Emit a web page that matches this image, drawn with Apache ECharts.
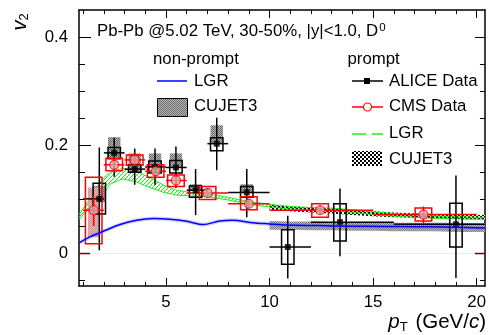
<!DOCTYPE html>
<html>
<head>
<meta charset="utf-8">
<script src="https://cdn.jsdelivr.net/npm/echarts@6/dist/echarts.min.js"></script>
<style>
  html, body { margin: 0; padding: 0; background: #fff; }
  #chart { width: 489px; height: 335px; }
</style>
</head>
<body>
<div id="chart"></div>
<script>
// ---------- ALICE prompt D0 v2 (30-50%) ----------
const aliceX      = [1.78, 2.50, 3.49, 4.47, 5.48, 6.43, 7.45, 8.90, 10.88, 13.40, 19.00];
const aliceV2     = [0.101, 0.186, 0.156, 0.160, 0.159, 0.117, 0.203, 0.113, 0.012, 0.058, 0.054];
const aliceBinLo  = [1, 2, 3, 4, 5, 6, 7, 8, 10, 12, 16];
const aliceBinHi  = [2, 3, 4, 5, 6, 7, 8, 10, 12, 16, 24];
const aliceStatLo = [0.006, 0.142, 0.127, 0.127, 0.121, 0.071, 0.154, 0.067, -0.046, -0.005, -0.045];
const aliceStatHi = [0.196, 0.214, 0.194, 0.194, 0.198, 0.156, 0.251, 0.156, 0.070, 0.120, 0.144];
const aliceSysLo  = [0.073, 0.175, 0.150, 0.149, 0.149, 0.104, 0.190, 0.104, -0.020, 0.023, 0.012];
const aliceSysHi  = [0.130, 0.196, 0.164, 0.171, 0.172, 0.125, 0.214, 0.124, 0.044, 0.092, 0.093];
// feed-down uncertainty (shaded)
const aliceFdLo   = [0.095, 0.175, 0.150, 0.160, 0.159, 0.117, 0.203, 0.113, null, null, null];
const aliceFdHi   = [0.125, 0.215, 0.185, 0.185, 0.185, 0.128, 0.237, 0.128, null, null, null];

// ---------- CMS prompt D0 v2 (30-50%) ----------
const cmsX      = [1.51, 2.50, 3.49, 4.50, 5.48, 7.01, 9.00, 12.44, 17.43];
const cmsV2     = [0.080, 0.164, 0.173, 0.152, 0.135, 0.112, 0.092, 0.080, 0.072];
const cmsBinLo  = [1, 2, 3, 4, 5, 6, 8, 10, 15];
const cmsBinHi  = [2, 3, 4, 5, 6, 8, 10, 15, 20];
const cmsStatLo = [0.051, 0.150, 0.160, 0.139, 0.123, 0.103, 0.083, 0.071, 0.056];
const cmsStatHi = [0.106, 0.178, 0.186, 0.165, 0.147, 0.121, 0.101, 0.089, 0.087];
const cmsSysLo  = [0.018, 0.153, 0.163, 0.141, 0.124, 0.100, 0.081, 0.067, 0.060];
const cmsSysHi  = [0.141, 0.176, 0.182, 0.164, 0.145, 0.124, 0.105, 0.092, 0.084];
const cmsShadeLo = [0.030, null, null, null, null, null, null, null, null];
const cmsShadeHi = [0.122, null, null, null, null, null, null, null, null];

// ---------- LGR prompt (band) ----------
const lgrPromptX  = [0.8, 1.2, 1.8, 2.3, 2.9, 3.6, 4.2, 4.9, 5.5, 6.0, 7.0, 8.0, 9.0, 10.0, 11.0, 12.0, 13.0, 14.0, 15.0, 16.0, 17.0, 18.0, 19.0, 20.4];
const lgrPromptHi = [0.072, 0.094, 0.131, 0.152, 0.157, 0.151, 0.141, 0.126, 0.117, 0.114, 0.110, 0.104, 0.096, 0.091, 0.087, 0.085, 0.084, 0.081, 0.077, 0.074, 0.071, 0.0695, 0.068, 0.067];
const lgrPromptLo = [0.063, 0.080, 0.100, 0.128, 0.138, 0.132, 0.122, 0.113, 0.108, 0.107, 0.105, 0.099, 0.091, 0.086, 0.082, 0.080, 0.079, 0.076, 0.072, 0.069, 0.067, 0.065, 0.064, 0.063];

// ---------- LGR non-prompt (line) ----------
const lgrNonPromptX  = [0.8, 1.33, 1.97, 2.78, 3.58, 4.39, 5.19, 6.0, 6.8, 7.6, 8.2, 9.2, 10.0, 10.8, 12.3, 13.9, 15.5, 17.0, 18.5, 19.5, 20.4];
const lgrNonPromptV2 = [0.0197, 0.0308, 0.0411, 0.0535, 0.0614, 0.0645, 0.0635, 0.0596, 0.0535, 0.0600, 0.0615, 0.0570, 0.0547, 0.0525, 0.0516, 0.0505, 0.0500, 0.0495, 0.0490, 0.0480, 0.0470];

// ---------- CUJET3 bands ----------
const cujetX           = [10, 11, 12, 13, 14, 15, 16, 17, 18, 19, 20.4];
const cujetPromptHi    = [0.090, 0.087, 0.085, 0.083, 0.080, 0.078, 0.076, 0.074, 0.073, 0.072, 0.071];
const cujetPromptLo    = [0.081, 0.078, 0.076, 0.074, 0.071, 0.069, 0.067, 0.066, 0.065, 0.064, 0.063];
const cujetNonPromptHi = [0.060, 0.059, 0.059, 0.058, 0.058, 0.058, 0.057, 0.057, 0.057, 0.057, 0.056];
const cujetNonPromptLo = [0.044, 0.044, 0.043, 0.043, 0.042, 0.042, 0.041, 0.041, 0.041, 0.040, 0.040];

// ---------- axes ----------
const X_MIN = 0.8, X_MAX = 20.4, Y_MIN = -0.06, Y_MAX = 0.45;
const xMajor = [5, 10, 15, 20];
const xMinor = [1, 2, 3, 4, 6, 7, 8, 9, 11, 12, 13, 14, 16, 17, 18, 19];
const yMajor = [0.2, 0.4];
const yMinor = [-0.05, 0.05, 0.1, 0.15, 0.25, 0.3, 0.35];
const yLabels = [0, 0.2, 0.4];

const FONT = '"Liberation Sans", Arial, Helvetica, sans-serif';
const FS = 16.8;

// ---------- fill patterns ----------
function makePattern(w, h, paint) {
  const c = document.createElement('canvas');
  c.width = w; c.height = h;
  paint(c.getContext('2d'));
  return { image: c, repeat: 'repeat' };
}
const greenHatch = makePattern(4, 4, g => {
  g.fillStyle = '#11ee11';
  for (let i = 0; i < 4; i++) g.fillRect(i, 3 - i, 1, 1);
});
const blackChecker = makePattern(4, 4, g => {
  g.fillStyle = '#fff'; g.fillRect(0, 0, 4, 4);
  g.fillStyle = '#000'; g.fillRect(0, 0, 2, 2); g.fillRect(2, 2, 2, 2);
});
const greyChecker = makePattern(2, 2, g => {
  g.fillStyle = '#b4b4b4'; g.fillRect(0, 0, 2, 2);
  g.fillStyle = '#6e6e6e'; g.fillRect(0, 0, 1, 1); g.fillRect(1, 1, 1, 1);
});
const bandGreyChecker = makePattern(2, 2, g => {
  g.fillStyle = '#bcbcbc'; g.fillRect(0, 0, 2, 2);
  g.fillStyle = '#7a7a7a'; g.fillRect(0, 0, 1, 1); g.fillRect(1, 1, 1, 1);
});
const pinkChecker = makePattern(2, 2, g => {
  g.fillStyle = '#f0b8b8'; g.fillRect(0, 0, 2, 2);
  g.fillStyle = '#c89090'; g.fillRect(0, 0, 1, 1); g.fillRect(1, 1, 1, 1);
});

// ---------- helpers ----------
function zip(...cols) { return cols[0].map((_, i) => cols.map(c => c[i])); }

function clampX(params, px) {
  const cs = params.coordSys;
  return Math.max(cs.x, Math.min(cs.x + cs.width, px));
}

// closed band between lower and upper curves
function bandSeries(xs, lo, hi, fill, edge) {
  return {
    type: 'custom',
    data: zip(xs, lo, hi),
    renderItem(params, api) {
      if (params.dataIndex !== 0) return;
      const top = xs.map((x, i) => api.coord([x, hi[i]]));
      const bot = xs.map((x, i) => api.coord([x, lo[i]])).reverse();
      const children = [{
        type: 'polygon',
        shape: { points: top.concat(bot) },
        style: { fill: fill, stroke: null }
      }];
      if (edge) {
        children.push({ type: 'polyline', shape: { points: top }, style: { stroke: edge, lineWidth: 1, fill: null } });
        children.push({ type: 'polyline', shape: { points: bot }, style: { stroke: edge, lineWidth: 1, fill: null } });
      }
      return { type: 'group', children };
    },
    silent: true
  };
}

// rectangles of fixed half-width in pT
function boxSeries(xs, lo, hi, halfWidth, style) {
  const rows = zip(xs, lo, hi).filter(r => r[1] != null && r[2] != null);
  return {
    type: 'custom',
    data: rows,
    renderItem(params, api) {
      const x = api.value(0);
      const a = api.coord([x - halfWidth, api.value(2)]);
      const b = api.coord([x + halfWidth, api.value(1)]);
      return {
        type: 'rect',
        shape: { x: a[0], y: a[1], width: b[0] - a[0], height: b[1] - a[1] },
        style: Object.assign({}, style)
      };
    },
    silent: true
  };
}

// error bars: horizontal = bin, vertical = stat
function errorSeries(xs, ys, xlo, xhi, ylo, yhi, color) {
  return {
    type: 'custom',
    data: zip(xs, ys, xlo, xhi, ylo, yhi),
    renderItem(params, api) {
      const c = api.coord([api.value(0), api.value(1)]);
      const l = api.coord([api.value(2), api.value(1)]);
      const r = api.coord([api.value(3), api.value(1)]);
      const t = api.coord([api.value(0), api.value(5)]);
      const b = api.coord([api.value(0), api.value(4)]);
      const st = { stroke: color, lineWidth: 1.5 };
      return {
        type: 'group',
        children: [
          { type: 'line', shape: { x1: clampX(params, l[0]), y1: c[1], x2: clampX(params, r[0]), y2: c[1] }, style: st },
          { type: 'line', shape: { x1: c[0], y1: t[1], x2: c[0], y2: b[1] }, style: st }
        ]
      };
    },
    silent: true
  };
}

function xAxisCfg(position, ticks, len, withLabels, withLine) {
  return {
    type: 'value', position, min: X_MIN, max: X_MAX,
    axisLine: { show: withLine, onZero: false, lineStyle: { color: '#000', width: 1.5 } },
    axisTick: { show: true, inside: true, length: len, customValues: ticks, lineStyle: { color: '#000', width: 1 } },
    axisLabel: withLabels
      ? { show: true, customValues: xMajor, fontSize: FS, fontFamily: FONT, color: '#000', margin: 8 }
      : { show: false },
    splitLine: { show: false }
  };
}
function yAxisCfg(position, ticks, len, withLabels, withLine) {
  return {
    type: 'value', position, min: Y_MIN, max: Y_MAX,
    axisLine: { show: withLine, onZero: false, lineStyle: { color: '#000', width: 1.5 } },
    axisTick: { show: true, inside: true, length: len, customValues: ticks, lineStyle: { color: '#000', width: 1 } },
    axisLabel: withLabels
      ? { show: true, customValues: yLabels, fontSize: FS, fontFamily: FONT, color: '#000', margin: 11,
          formatter: v => (Math.abs(v) < 1e-9 ? '0' : String(+v.toFixed(2))) }
      : { show: false },
    splitLine: { show: false }
  };
}

const chart = echarts.init(document.getElementById('chart'), null, { renderer: 'canvas' });

const txt = (x, y, text, extra) => ({
  type: 'text', x, y,
  style: Object.assign({ text, fill: '#000', font: FS + 'px ' + FONT, verticalAlign: 'middle', align: 'left' }, extra || {})
});

chart.setOption({
  animation: false,
  backgroundColor: '#fff',
  grid: { left: 79, right: 4, top: 10, bottom: 49, containLabel: false },
  xAxis: [
    xAxisCfg('bottom', xMajor, 8, true, true),
    xAxisCfg('bottom', xMinor, 4, false, false),
    xAxisCfg('top', xMajor, 8, false, true),
    xAxisCfg('top', xMinor, 4, false, false)
  ],
  yAxis: [
    yAxisCfg('left', yMajor, 12, true, true),
    yAxisCfg('left', yMinor, 6, false, false),
    yAxisCfg('right', yMajor, 10, false, true),
    yAxisCfg('right', yMinor, 5, false, false)
  ],
  series: [
    // v2 = 0 reference line with its dark-red end ticks
    {
      type: 'custom', silent: true, data: [[0]],
      renderItem(params, api) {
        const cs = params.coordSys;
        const y = api.coord([X_MIN, 0])[1];
        return {
          type: 'group',
          children: [
            { type: 'line', shape: { x1: cs.x, y1: y, x2: cs.x + cs.width, y2: y }, style: { stroke: '#eeeeee', lineWidth: 1 } },
            { type: 'line', shape: { x1: cs.x, y1: y, x2: cs.x + 11, y2: y }, style: { stroke: '#5a1010', lineWidth: 1.5 } },
            { type: 'line', shape: { x1: cs.x + cs.width - 10, y1: y, x2: cs.x + cs.width, y2: y }, style: { stroke: '#5a1010', lineWidth: 1.5 } }
          ]
        };
      }
    },
    // CUJET3 non-prompt
    bandSeries(cujetX, cujetNonPromptLo, cujetNonPromptHi, bandGreyChecker, null),
    // CUJET3 prompt
    bandSeries(cujetX, cujetPromptLo, cujetPromptHi, blackChecker, null),
    // LGR prompt
    bandSeries(lgrPromptX, lgrPromptLo, lgrPromptHi, greenHatch, '#22ee22'),
    // LGR non-prompt
    {
      type: 'line', data: zip(lgrNonPromptX, lgrNonPromptV2), smooth: 0.3, showSymbol: false, silent: true,
      lineStyle: { color: 'rgba(110,110,255,0.3)', width: 4 }
    },
    {
      type: 'line', data: zip(lgrNonPromptX, lgrNonPromptV2), smooth: 0.3, showSymbol: false, silent: true,
      lineStyle: { color: '#0000ff', width: 1.5 }
    },
    // ALICE feed-down shading
    boxSeries(aliceX, aliceFdLo, aliceFdHi, 0.3, { fill: greyChecker, stroke: null }),
    // CMS shading
    boxSeries(cmsX, cmsShadeLo, cmsShadeHi, 0.28, { fill: pinkChecker, stroke: null }),
    // ALICE systematic boxes, error bars and points
    boxSeries(aliceX, aliceSysLo, aliceSysHi, 0.3, { fill: null, stroke: '#000', lineWidth: 1.5 }),
    errorSeries(aliceX, aliceV2, aliceBinLo, aliceBinHi, aliceStatLo, aliceStatHi, '#000'),
    {
      type: 'scatter', data: zip(aliceX, aliceV2), symbol: 'rect', symbolSize: 6, silent: true,
      itemStyle: { color: '#000' }
    },
    // CMS systematic boxes, error bars and points
    boxSeries(cmsX, cmsSysLo, cmsSysHi, 0.4, { fill: null, stroke: '#ff0000', lineWidth: 1.5 }),
    errorSeries(cmsX, cmsV2, cmsBinLo, cmsBinHi, cmsStatLo, cmsStatHi, '#ff0000'),
    {
      type: 'scatter', data: zip(cmsX, cmsV2), symbol: 'circle', symbolSize: 9, silent: true,
      itemStyle: { color: '#d8a8a8', borderColor: '#ff0000', borderWidth: 1.2 }
    }
  ],
  graphic: [
    // header text
    {
      type: 'text', x: 97, y: 31.5,
      style: {
        text: 'Pb-Pb @5.02 TeV, 30-50%, |y|<1.0, D{s|0}',
        fill: '#000', font: FS + 'px ' + FONT, verticalAlign: 'middle',
        rich: { s: { fontSize: 11.5, fontFamily: FONT, verticalAlign: 'top', padding: [0, 0, 8, 1] } }
      }
    },
    // non-prompt legend
    txt(153, 59, 'non-prompt'),
    { type: 'line', shape: { x1: 157, y1: 81, x2: 187, y2: 81 }, style: { stroke: '#0000ff', lineWidth: 1.5 } },
    txt(194, 81.5, 'LGR'),
    { type: 'rect', shape: { x: 157.5, y: 98.5, width: 30, height: 18 }, style: { fill: greyChecker, stroke: '#000', lineWidth: 1 } },
    txt(194, 106.5, 'CUJET3'),
    // prompt legend
    txt(347.5, 59, 'prompt'),
    { type: 'line', shape: { x1: 352, y1: 81, x2: 383, y2: 81 }, style: { stroke: '#000', lineWidth: 1.5 } },
    { type: 'rect', shape: { x: 364, y: 78, width: 6, height: 6 }, style: { fill: '#000' } },
    txt(389, 81.5, 'ALICE Data'),
    { type: 'line', shape: { x1: 352, y1: 107, x2: 383, y2: 107 }, style: { stroke: '#ff0000', lineWidth: 1.5 } },
    { type: 'circle', shape: { cx: 367.5, cy: 107, r: 4 }, style: { fill: '#fff', stroke: '#ff0000', lineWidth: 1.2 } },
    txt(389, 106.5, 'CMS Data'),
    { type: 'line', shape: { x1: 352, y1: 134, x2: 383, y2: 134 }, style: { stroke: '#22ee22', lineWidth: 1.5, lineDash: [14, 6] } },
    txt(389, 133.5, 'LGR'),
    { type: 'rect', shape: { x: 352, y: 151, width: 30, height: 15 }, style: { fill: blackChecker, stroke: null } },
    txt(389, 159, 'CUJET3'),
    // axis titles
    {
      type: 'text', x: 486, y: 322,
      style: {
        text: '{i|p}{s|T}{n| (GeV/}{i|c}{n|)}',
        fill: '#000', font: '20.5px ' + FONT, align: 'right', verticalAlign: 'middle',
        rich: {
          i: { fontSize: 20.5, fontFamily: FONT, fontStyle: 'italic', lineHeight: 24 },
          n: { fontSize: 20.5, fontFamily: FONT, lineHeight: 24 },
          s: { fontSize: 13, fontFamily: FONT, verticalAlign: 'bottom', lineHeight: 24, padding: [0, 2, 0, 0] }
        }
      }
    },
    {
      type: 'text', x: 20, y: 22, rotation: Math.PI / 2,
      style: {
        text: '{i|v}{s|2}',
        fill: '#000', font: '20px ' + FONT, align: 'center', verticalAlign: 'middle',
        rich: {
          i: { fontSize: 20, fontFamily: FONT, fontStyle: 'italic', lineHeight: 22 },
          s: { fontSize: 13, fontFamily: FONT, verticalAlign: 'bottom', lineHeight: 22 }
        }
      }
    }
  ]
});
</script>
</body>
</html>
